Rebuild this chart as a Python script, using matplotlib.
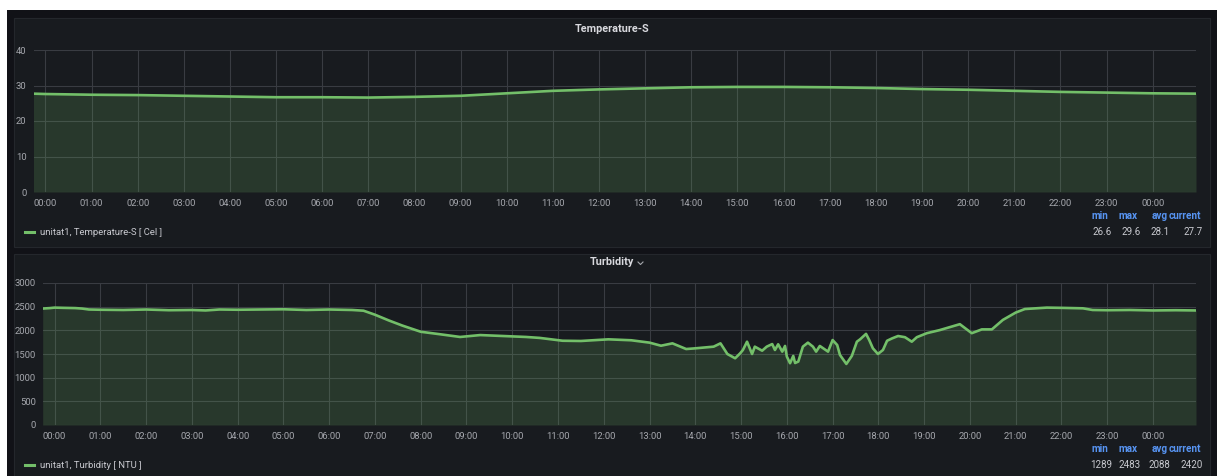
import matplotlib.pyplot as plt
from matplotlib.patches import Rectangle
from matplotlib.lines import Line2D

plt.rcParams['font.family'] = ['Roboto', 'DejaVu Sans']

# hour ticks shared by both panels
hour_ticks = list(range(0, 25))
hour_labels = ["%02d:00" % (h % 24) for h in hour_ticks]

# Temperature-S (Cel), hours since 00:00
temp_t = [-0.26, 0, 1, 2, 3, 4, 5, 6, 7, 8, 9, 10, 11, 12, 13, 14, 15, 16,
          17, 18, 19, 20, 21, 22, 23, 24, 24.94]
temp_v = [27.7, 27.6, 27.4, 27.3, 27.1, 26.9, 26.7, 26.7, 26.6, 26.8, 27.1,
          27.8, 28.5, 28.9, 29.2, 29.5, 29.6, 29.6, 29.5, 29.3, 29.0, 28.8,
          28.5, 28.2, 28.0, 27.8, 27.7]
temp_stats = ["26.6", "29.6", "28.1", "27.7"]

# Turbidity (NTU)
turb_t = [-0.26, -0.1, 0.0, 0.2, 0.45, 0.6, 0.75, 1.0, 1.5, 2.0, 2.5, 3.0,
          3.3, 3.6, 4.0, 4.5, 5.0, 5.5, 6.0, 6.5, 6.75, 7.0, 7.3, 7.6, 8.0,
          8.4, 8.86, 9.3, 9.8, 10.3, 10.6, 11.1, 11.5, 12.1, 12.6, 13.0,
          13.25, 13.5, 13.8, 14.0, 14.4, 14.55, 14.7, 14.87, 14.98, 15.04,
          15.13, 15.24, 15.3, 15.46, 15.56, 15.68, 15.74, 15.81, 15.9, 15.96,
          16.0, 16.07, 16.14, 16.18, 16.25, 16.35, 16.46, 16.57, 16.64, 16.72,
          16.9, 17.0, 17.1, 17.16, 17.3, 17.42, 17.53, 17.6, 17.73, 17.8,
          17.88, 17.99, 18.1, 18.19, 18.3, 18.43, 18.58, 18.73, 18.84, 19.06,
          19.34, 19.78, 20.04, 20.26, 20.48, 20.72, 21.0, 21.2, 21.68, 22.0,
          22.47, 22.68, 23.0, 23.5, 24.0, 24.5, 24.94]
turb_v = [2460, 2470, 2480, 2475, 2470, 2460, 2440, 2435, 2430, 2440, 2425,
          2430, 2420, 2440, 2435, 2440, 2445, 2430, 2440, 2430, 2415, 2330,
          2210, 2100, 1970, 1920, 1860, 1900, 1880, 1860, 1840, 1780, 1775,
          1810, 1790, 1740, 1675, 1725, 1605, 1620, 1655, 1725, 1500, 1410,
          1515, 1585, 1760, 1500, 1655, 1570, 1655, 1710, 1585, 1705, 1550,
          1670, 1445, 1305, 1460, 1310, 1340, 1655, 1740, 1655, 1550, 1670,
          1550, 1795, 1690, 1480, 1290, 1460, 1760, 1810, 1925, 1795, 1620,
          1500, 1585, 1780, 1830, 1880, 1855, 1760, 1855, 1940, 2005, 2130,
          1940, 2020, 2020, 2220, 2375, 2450, 2480, 2475, 2465, 2430, 2425,
          2430, 2420, 2425, 2420]
turb_stats = ["1289", "2483", "2088", "2420"]

W, H = 1217, 476
BG = "#111217"
PANEL = "#181b1f"
GREEN = "#73bf69"
TXT = "#a5a7ad"
BLUE = "#5794f2"

fig = plt.figure(figsize=(W / 100, H / 100), dpi=100, facecolor="white")


def px(x, y):
    return x / W, 1 - y / H


# dark dashboard background and panels
fig.patches.append(Rectangle((7 / W, 0), 1, 1 - 10 / H, transform=fig.transFigure,
                             facecolor=BG, edgecolor="none", zorder=-3))
for top, bot in [(18, 247), (254, 480)]:
    fig.patches.append(Rectangle((14 / W, 1 - bot / H), (1210 - 14) / W, (bot - top) / H,
                                 transform=fig.transFigure, facecolor=PANEL,
                                 edgecolor="#24272c", lw=0.8, zorder=-2))


def panel(ax_box, t, v, ymax, ystep, title, legend, stats, ytitle, yleg, yhead):
    ax = fig.add_axes(ax_box)
    ax.set_facecolor(PANEL)
    ax.fill_between(t, v, 0, color=GREEN, alpha=0.18, lw=0, zorder=2)
    ax.plot(t, v, color=GREEN, lw=1.9, zorder=3)
    ax.set_xlim(-0.26, 24.94)
    ax.set_ylim(0, ymax)
    ax.set_xticks(hour_ticks)
    ax.set_xticklabels(hour_labels)
    ax.set_yticks(range(0, ymax + 1, ystep))
    ax.grid(True, color="#393c42", lw=0.8, zorder=1)
    ax.set_axisbelow(True)
    for s in ax.spines.values():
        s.set_visible(False)
    ax.tick_params(length=0, labelsize=6.8, colors=TXT, pad=5)
    fig.text(*px(612, ytitle), title, ha="center", va="center", color="#d8d9de",
             fontsize=7.8, fontweight="bold")
    fig.add_artist(Line2D([25 / W, 34 / W], [1 - yleg / H] * 2, color=GREEN, lw=2.2))
    fig.text(*px(40, yleg), legend, ha="left", va="center", color="#c8c9cf", fontsize=6.8)
    for name, xc in zip(["min", "max", "avg", "current"], [1100, 1128, 1160, 1185]):
        fig.text(*px(xc, yhead), name, ha="center", va="center", color=BLUE,
                 fontsize=7.2, fontweight="bold")
    for val, xr in zip(stats, [1112, 1141, 1170, 1203]):
        fig.text(*px(xr, yleg), val, ha="right", va="center", color="#c8c9cf", fontsize=7)
    return ax


panel([33.5 / W, 1 - 192 / H, (1196 - 33.5) / W, 142 / H], temp_t, temp_v, 40, 10,
      "Temperature-S", "unitat1, Temperature-S [ Cel ]", temp_stats, 29, 232, 216)
panel([42.7 / W, 1 - 425 / H, (1196 - 42.7) / W, 142 / H], turb_t, turb_v, 3000, 500,
      "Turbidity", "unitat1, Turbidity [ NTU ]", turb_stats, 262, 465, 449)
# small dropdown chevron next to the Turbidity title
fig.add_artist(Line2D([638 / W, 640.5 / W, 643 / W], [1 - 262 / H, 1 - 264.5 / H, 1 - 262 / H],
                      color=TXT, lw=0.8))

fig.savefig("out.png", dpi=100, facecolor=fig.get_facecolor())
